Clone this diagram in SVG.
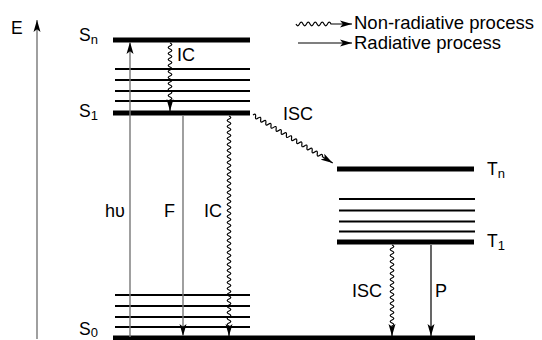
<svg xmlns="http://www.w3.org/2000/svg" width="542" height="340" viewBox="0 0 542 340">
<style>
text{font-family:"Liberation Sans",Arial,Helvetica,sans-serif;fill:#000}
.lbl{font-size:17.5px}
.sub{font-size:13px}
.proc{font-size:18px}
.leg{font-size:18.5px}
.thick{stroke:#000;stroke-width:5;fill:none}
.thin{stroke:#000;stroke-width:2.2;fill:none}
.rad{stroke:#777;stroke-width:1.4;fill:none;marker-end:url(#ah)}
.radk{stroke:#000;stroke-width:1.2;fill:none;marker-end:url(#ah)}
.wave{stroke:#000;stroke-width:1.2;fill:none;marker-end:url(#ah)}
</style>
<defs>
<marker id="ah" viewBox="0 0 12 8" refX="12" refY="4" markerWidth="12" markerHeight="8" markerUnits="userSpaceOnUse" orient="auto">
<path d="M0,0.5 L12,4 L0,7.5 L2.8,4 z" fill="#000"/>
</marker>
</defs>
<rect width="542" height="340" fill="#fff"/>

<g id="axis-E">
<line class="rad" x1="37" y1="339" x2="37" y2="20"/>
<text class="lbl" x="11" y="34">E</text>
</g>

<g id="S-n">
<line class="thick" x1="113" y1="40" x2="250" y2="40"/>
<text class="lbl" x="79" y="41">S<tspan class="sub" dy="3">n</tspan></text>
</g>
<g id="S-n-vib">
<line class="thin" x1="115" y1="69" x2="250" y2="69"/>
<line class="thin" x1="115" y1="80" x2="250" y2="80"/>
<line class="thin" x1="115" y1="91" x2="250" y2="91"/>
<line class="thin" x1="115" y1="101" x2="250" y2="101"/>
</g>
<g id="S-1">
<line class="thick" x1="113" y1="113" x2="250" y2="113"/>
<text class="lbl" x="79" y="117">S<tspan class="sub" dy="3">1</tspan></text>
</g>
<g id="S-0-vib">
<line class="thin" x1="115" y1="295" x2="250" y2="295"/>
<line class="thin" x1="115" y1="306" x2="250" y2="306"/>
<line class="thin" x1="115" y1="317" x2="250" y2="317"/>
<line class="thin" x1="115" y1="327" x2="250" y2="327"/>
</g>
<g id="S-0">
<line class="thick" x1="113" y1="338" x2="475" y2="338"/>
<text class="lbl" x="79" y="335">S<tspan class="sub" dy="2">0</tspan></text>
</g>
<g id="T-n">
<line class="thick" x1="337" y1="169" x2="474" y2="169"/>
<text class="lbl" x="487" y="175">T<tspan class="sub" dy="3">n</tspan></text>
</g>
<g id="T-1-vib">
<line class="thin" x1="339" y1="199" x2="475" y2="199"/>
<line class="thin" x1="339" y1="210.5" x2="475" y2="210.5"/>
<line class="thin" x1="339" y1="221.5" x2="475" y2="221.5"/>
<line class="thin" x1="339" y1="231.5" x2="475" y2="231.5"/>
</g>
<g id="T-1">
<line class="thick" x1="337" y1="242" x2="474" y2="242"/>
<text class="lbl" x="487" y="247">T<tspan class="sub" dy="3">1</tspan></text>
</g>

<g id="connectors">
<line id="absorption" class="rad" x1="130" y1="337" x2="130" y2="42"/>
<path id="ic-top" class="wave" d="M170,43 q3.6,1.5 0,3 t0,3 t0,3 t0,3 t0,3 t0,3 t0,3 t0,3 t0,3 t0,3 t0,3 t0,3 t0,3 t0,3 t0,3 t0,3 t0,3 t0,3 t0,3 l0,11"/>
<line id="fluorescence" class="rad" x1="183" y1="116" x2="183" y2="336"/>
<path id="ic-low" class="wave" d="M229,116 q3.6,1.5 0,3 t0,3 t0,3 t0,3 t0,3 t0,3 t0,3 t0,3 t0,3 t0,3 t0,3 t0,3 t0,3 t0,3 t0,3 t0,3 t0,3 t0,3 t0,3 t0,3 t0,3 t0,3 t0,3 t0,3 t0,3 t0,3 t0,3 t0,3 t0,3 t0,3 t0,3 t0,3 t0,3 t0,3 t0,3 t0,3 t0,3 t0,3 t0,3 t0,3 t0,3 t0,3 t0,3 t0,3 t0,3 t0,3 t0,3 t0,3 t0,3 t0,3 t0,3 t0,3 t0,3 t0,3 t0,3 t0,3 t0,3 t0,3 t0,3 t0,3 t0,3 t0,3 t0,3 t0,3 t0,3 t0,3 t0,3 t0,3 t0,3 t0,3 l0,10"/>
<path id="isc-diag" class="wave" transform="translate(253,115) rotate(31)" d="M0,0 q1.5,-3.6 3,0 t3,0 t3,0 t3,0 t3,0 t3,0 t3,0 t3,0 t3,0 t3,0 t3,0 t3,0 t3,0 t3,0 t3,0 t3,0 t3,0 t3,0 t3,0 t3,0 t3,0 t3,0 t3,0 t3,0 t3,0 t3,0 t3,0 l12,0"/>
<path id="isc-low" class="wave" d="M392,245 q3.6,1.5 0,3 t0,3 t0,3 t0,3 t0,3 t0,3 t0,3 t0,3 t0,3 t0,3 t0,3 t0,3 t0,3 t0,3 t0,3 t0,3 t0,3 t0,3 t0,3 t0,3 t0,3 t0,3 t0,3 t0,3 t0,3 t0,3 t0,3 l0,10"/>
<line id="phosphorescence" class="radk" x1="431" y1="245" x2="431" y2="336"/>
</g>

<g id="process-labels">
<text class="proc" x="105" y="217">hυ</text>
<text class="proc" x="164" y="217">F</text>
<text class="proc" x="204" y="217">IC</text>
<text class="proc" x="177" y="61">IC</text>
<text class="proc" x="283" y="120">ISC</text>
<text class="proc" x="352" y="297">ISC</text>
<text class="proc" x="435" y="297">P</text>
</g>

<g id="legend">
<path class="wave" d="M296,24 q1.75,3.6 3.5,0 t3.5,0 t3.5,0 t3.5,0 t3.5,0 t3.5,0 t3.5,0 t3.5,0 t3.5,0 t3.5,0 l21,0"/>
<text class="leg" x="354" y="29">Non-radiative process</text>
<line class="radk" x1="298" y1="43" x2="352" y2="43"/>
<text class="leg" x="354" y="49">Radiative process</text>
</g>
</svg>
